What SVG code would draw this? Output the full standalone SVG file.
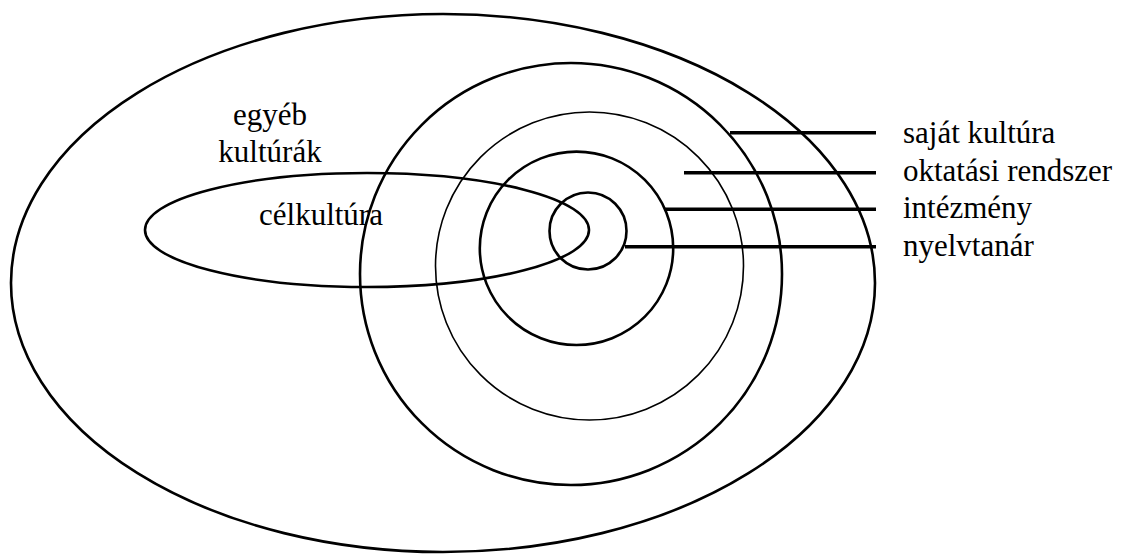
<svg xmlns="http://www.w3.org/2000/svg" width="1125" height="555" viewBox="0 0 1125 555">
<style>
.ring{fill:none;stroke:#000;stroke-width:2.6}
.thin{fill:none;stroke:#000;stroke-width:1.6}
.lead{stroke:#000;stroke-width:3.6}
text{font-family:"Liberation Serif","Times New Roman",serif;font-size:31px;fill:#000}
</style>
<rect width="1125" height="555" fill="#fff"/>
<g id="egyeb-kulturak">
<ellipse class="ring" cx="443" cy="283" rx="432" ry="269"/>
<text x="270" y="125" text-anchor="middle">egyéb</text>
<text x="270" y="161.5" text-anchor="middle">kultúrák</text>
</g>
<g id="sajat-kultura">
<circle class="ring" cx="571" cy="274" r="211"/>
</g>
<g id="oktatasi-rendszer">
<circle class="thin" cx="589.5" cy="266" r="154"/>
</g>
<g id="intezmeny">
<circle class="ring" cx="576.5" cy="248.3" r="96.7"/>
</g>
<g id="nyelvtanar">
<circle class="ring" cx="588" cy="231" r="38.5"/>
</g>
<g id="celkultura">
<ellipse class="ring" cx="367" cy="230" rx="222" ry="57" fill="#fff"/>
<text x="321" y="225" text-anchor="middle">célkultúra</text>
</g>
<g id="connectors">
<line class="lead" x1="730" y1="132.7" x2="876" y2="132.7"/>
<line class="lead" x1="684" y1="172.7" x2="876" y2="172.7"/>
<line class="lead" x1="664" y1="209.3" x2="876" y2="209.3"/>
<line class="lead" x1="625" y1="246.7" x2="876" y2="246.7"/>
</g>
<g id="labels">
<text x="903" y="143">saját kultúra</text>
<text x="903" y="180.5">oktatási rendszer</text>
<text x="903" y="218">intézmény</text>
<text x="903" y="255.5">nyelvtanár</text>
</g>
</svg>
